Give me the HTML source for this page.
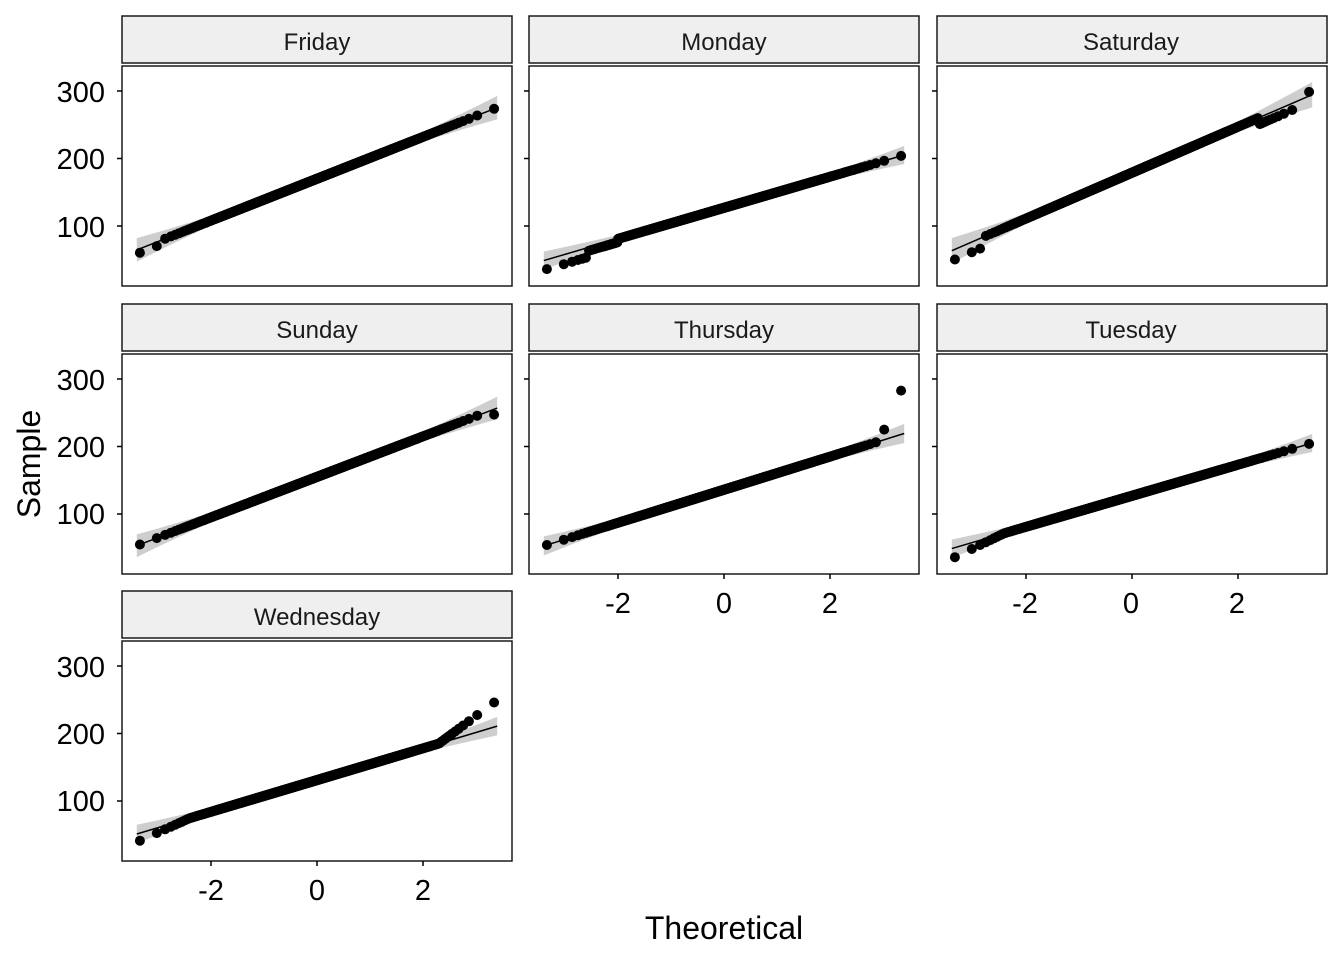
<!DOCTYPE html>
<html><head><meta charset="utf-8"><style>
html,body{margin:0;padding:0;background:#fff;}
svg{display:block;font-family:"Liberation Sans",Arial,sans-serif;}
</style></head><body>
<svg id="s" width="1344" height="960" xmlns="http://www.w3.org/2000/svg">
<rect width="1344" height="960" fill="#fff"/>
<g id="panels"></g>
<g font-size="24" text-anchor="middle" fill="#1a1a1a">
<text x="317" y="50">Friday</text><text x="724" y="50">Monday</text><text x="1131" y="50">Saturday</text>
<text x="317" y="338">Sunday</text><text x="724" y="338">Thursday</text><text x="1131" y="338">Tuesday</text>
<text x="317" y="625">Wednesday</text>
</g>
<g font-size="29" text-anchor="end" fill="#000">
<text x="105" y="102">300</text><text x="105" y="169">200</text><text x="105" y="237">100</text>
<text x="105" y="390">300</text><text x="105" y="457">200</text><text x="105" y="524">100</text>
<text x="105" y="677">300</text><text x="105" y="744">200</text><text x="105" y="811">100</text>
</g>
<g font-size="29" text-anchor="middle" fill="#000">
<text x="618" y="613">-2</text><text x="724" y="613">0</text><text x="830" y="613">2</text>
<text x="1025" y="613">-2</text><text x="1131" y="613">0</text><text x="1237" y="613">2</text>
<text x="211" y="900">-2</text><text x="317" y="900">0</text><text x="423" y="900">2</text>
</g>
<text x="724" y="939" font-size="32" text-anchor="middle">Theoretical</text>
<text transform="translate(40,464) rotate(-90)" font-size="32" text-anchor="middle">Sample</text>
</svg>
<script>
function qn(p){var a=[-39.69683028665376,220.9460984245205,-275.9285104469687,138.3577518672690,-30.66479806614716,2.506628277459239],b=[-54.47609879822406,161.5858368580409,-155.6989798598866,66.80131188771972,-13.28068155288572],c=[-0.007784894002430293,-0.3223964580411365,-2.400758277161838,-2.549732539343734,4.374664141464968,2.938163982698783],d=[0.007784695709041462,0.3224671290700398,2.445134137142996,3.754408661907416];var q,r;if(p<0.02425){q=Math.sqrt(-2*Math.log(p));return(((((c[0]*q+c[1])*q+c[2])*q+c[3])*q+c[4])*q+c[5])/((((d[0]*q+d[1])*q+d[2])*q+d[3])*q+1);}if(p>1-0.02425){return -qn(1-p);}q=p-0.5;r=q*q;return(((((a[0]*r+a[1])*r+a[2])*r+a[3])*r+a[4])*r+a[5])*q/(((((b[0]*r+b[1])*r+b[2])*r+b[3])*r+b[4])*r+1);}
var P=[
{x:122,y:66,i:170,s:31,dev:function(x){return x<-2.9?-6:0;},xt:0},
{x:529,y:66,i:127,s:23,dev:function(x){return x<-2.6?-14:(x<-2?-5:0);},xt:0},
{x:937,y:66,i:179,s:34,dev:function(x){return x<-2.8?-15:(x>2.4&&x<3.3?-10:(x>=3.3?6:0));},xt:0},
{x:122,y:354,i:155,s:30,dev:function(x){return x>3.2?-8:0;},xt:0},
{x:529,y:354,i:136,s:24.5,dev:function(x){return x>3.3?65:(x>3?15:0);},xt:1},
{x:937,y:354,i:127,s:23,dev:function(x){return x<-2.4?(x+2.4)*15:0;},xt:1},
{x:122,y:641,i:131,s:23.5,dev:function(x){return (x<-2.4?(x+2.4)*12:0)+(x>2.3?(x-2.3)*35:0);},xt:1}
];
var n=1200,h='';
P.forEach(function(p){
 var cx=p.x+195,by=p.y+160;
 function X(t){return cx+t*53;} function Y(v){return by-(v-100)*0.675;}
 h+='<rect x="'+(p.x)+'" y="'+(p.y-50)+'" width="390" height="47" fill="#efefef" stroke="#1a1a1a" stroke-width="1.5"/>';
 var up=[],lo=[];
 for(var t=-3.4;t<=3.401;t+=0.2){var w=2+1.2*t*t*(p.s/28);up.push(X(t)+','+Y(p.i+p.s*t+w));lo.unshift(X(t)+','+Y(p.i+p.s*t-w));}
 h+='<polygon points="'+up.concat(lo).join(' ')+'" fill="#bdbdbd" opacity="0.75"/>';
 h+='<line x1="'+X(-3.4)+'" y1="'+Y(p.i-3.4*p.s)+'" x2="'+X(3.4)+'" y2="'+Y(p.i+3.4*p.s)+'" stroke="#000" stroke-width="1.5"/>';
 for(var k=1;k<=n;k++){var t=qn((k-0.5)/n);var v=p.i+p.s*t+p.dev(t);h+='<circle cx="'+X(t).toFixed(1)+'" cy="'+Y(v).toFixed(1)+'" r="5" fill="#000"/>';}
 h+='<rect x="'+p.x+'" y="'+p.y+'" width="390" height="220" fill="none" stroke="#1a1a1a" stroke-width="1.5"/>';
 [300,200,100].forEach(function(v){h+='<line x1="'+(p.x-5)+'" x2="'+p.x+'" y1="'+Y(v)+'" y2="'+Y(v)+'" stroke="#000" stroke-width="1.5"/>';});
 if(p.xt)[-2,0,2].forEach(function(t){h+='<line x1="'+X(t)+'" x2="'+X(t)+'" y1="'+(p.y+220)+'" y2="'+(p.y+225)+'" stroke="#000" stroke-width="1.5"/>';});
});
document.getElementById('panels').innerHTML=h;
</script>
</body></html>
